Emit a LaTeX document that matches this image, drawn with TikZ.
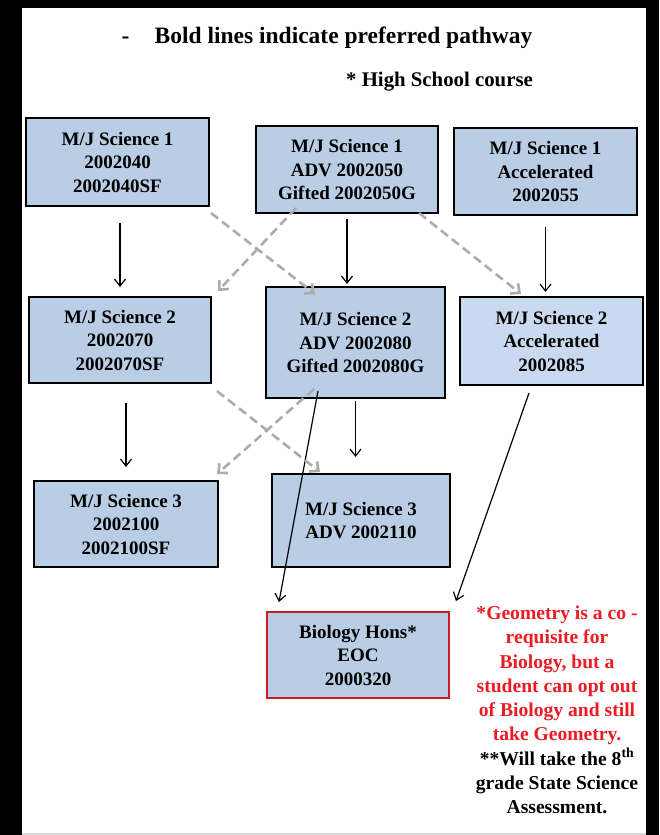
\documentclass[tikz,border=0pt]{standalone}
\usepackage{fontspec}
\setmainfont{Liberation Serif}
\usetikzlibrary{arrows.meta,positioning}
\definecolor{boxblue}{RGB}{185,205,229}
\definecolor{paleblue}{RGB}{202,217,239}
\definecolor{notered}{RGB}{236,28,36}
\definecolor{hsred}{RGB}{200,30,35}
\definecolor{pathgray}{RGB}{172,172,172}
\tikzset{>=stealth}
\tikzset{%
    course/.style={%
        draw=black, line width=2pt, fill=boxblue, align=center, inner sep=0pt,
        font=\fontsize{19}{23.5}\selectfont\bfseries
    },
    prefpath/.style={%
        line width=1.2pt, -{Straight Barb[length=7pt,width=11pt]}
    },
    altpath/.style={%
        pathgray, line width=2.6pt, dash pattern=on 9pt off 5pt,
        -{Straight Barb[length=7pt,width=13pt]}
    },
    notetext/.style={font=\fontsize{19.6}{24.3}\selectfont\bfseries},
    headtext/.style={font=\fontsize{23.5}{27}\selectfont\bfseries}
}

\begin{document}
\begin{tikzpicture}[x=1pt,y=-1pt]
    \useasboundingbox (0,0) rectangle (659,835);
    % frame
    \fill[black] (0,0) rectangle (659,835);
    \fill[white] (22,8) rectangle (646,835);
    \draw[black!15,line width=2pt] (22,834) -- (646,834);

    % header
    \node[headtext] (title) at (343.5,38) {Bold lines indicate preferred pathway};
    \node[headtext, anchor=base east] (dash) at ([xshift=-18pt]title.base west) {-};
    \node[notetext, font=\fontsize{20.8}{24}\selectfont\bfseries] (hs) at (439.5,82) {* High School course};

    % courses
    \node[course, minimum width=183pt, minimum height=88pt] (a1) at (117.5,162) {M/J Science 1\\2002040\\2002040SF};
    \node[course, minimum width=182pt, minimum height=87pt] (b1) at (347,169.5) {M/J Science 1\\ADV 2002050\\Gifted 2002050G};
    \node[course, minimum width=183pt, minimum height=87pt] (c1) at (545.5,171.5) {M/J Science 1\\Accelerated\\2002055};
    \node[course, minimum width=182pt, minimum height=86pt] (a2) at (120,340) {M/J Science 2\\2002070\\2002070SF};
    \node[course, minimum width=179pt, minimum height=111pt] (b2) at (355.5,342.5) {M/J Science 2\\ADV 2002080\\Gifted 2002080G};
    \node[course, fill=paleblue, minimum width=183pt, minimum height=88pt] (c2) at (551.5,341) {M/J Science 2\\Accelerated\\2002085};
    \node[course, minimum width=184pt, minimum height=86pt] (a3) at (126,524) {M/J Science 3\\2002100\\2002100SF};
    \node[course, minimum width=178pt, minimum height=93pt] (b3) at (361,520.5) {M/J Science 3\\ADV 2002110};
    \node[course, draw=hsred, minimum width=182pt, minimum height=86pt] (bio) at (358,655) {Biology Hons*\\EOC\\2000320};

    % note
    \node[notetext, align=center, text=notered] (note) at (557,710) {*Geometry is a co -\\requisite for\\Biology, but a\\student can opt out\\of Biology and still\\take Geometry.\\
        \color{black}**Will take the 8\textsuperscript{th}\\\color{black}grade State Science\\\color{black}Assessment.};

    % preferred pathways
    \draw[prefpath, shorten <=16pt, shorten >=9pt] (a2.north |- a1.south) -- (a2.north);
    \draw[prefpath, shorten <=5pt, shorten >=2pt] (b1.south) -- (b1.south |- b2.north);
    \draw[prefpath, shorten <=11pt, shorten >=4pt] (c1.south) -- (c1.south |- c2.north);
    \draw[prefpath, shorten <=19pt, shorten >=13pt] (a3.north |- a2.south) -- (a3.north);
    \draw[prefpath, shorten <=2pt, shorten >=16pt] (b2.south) -- (b2.south |- b3.north);
    \draw[prefpath] ([shift={(53,-8)}]b2.south west) -- ([shift={(13,-9)}]bio.north west);
    \draw[prefpath] ([shift={(-22.5,7)}]c2.south) -- ([shift={(6,-10)}]bio.north east);

    % other pathways
    \draw[altpath] ([shift={(1,6)}]a1.south east) -- ([shift={(50,8)}]b2.north west);
    \draw[altpath] ([shift={(41,-6)}]b1.south west) -- ([shift={(6,-5)}]a2.north east);
    \draw[altpath] ([shift={(-20,-1)}]b1.south east) -- ([shift={(62,-2)}]c2.north west);
    \draw[altpath] ([shift={(5,7)}]a2.south east) -- ([shift={(49,-1)}]b3.north west);
    \draw[altpath] ([shift={(49,-10)}]b2.south west) -- ([shift={(-2,-6)}]a3.north east);
\end{tikzpicture}
\end{document}
